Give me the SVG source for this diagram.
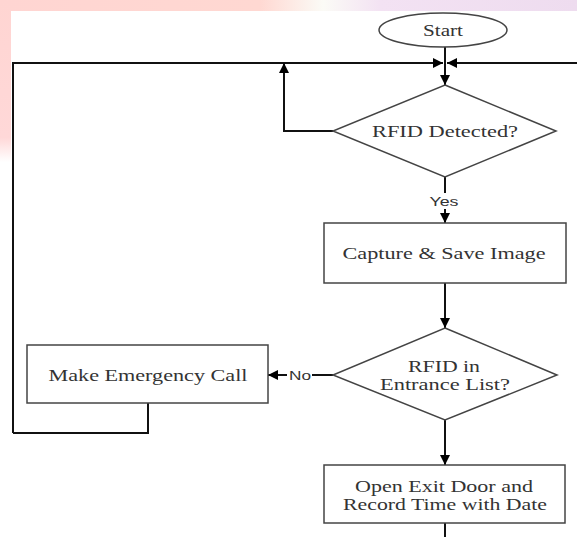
<svg xmlns="http://www.w3.org/2000/svg" width="577" height="537" viewBox="0 0 577 537">
<defs>
<linearGradient id="topg" x1="0" y1="0" x2="1" y2="0">
<stop offset="0" stop-color="#ffd5d2"/>
<stop offset="0.45" stop-color="#ffd8d2"/>
<stop offset="0.56" stop-color="#fbfbf6"/>
<stop offset="0.66" stop-color="#f3e2f3"/>
<stop offset="1" stop-color="#eedcef"/>
</linearGradient>
<linearGradient id="leftg" x1="0" y1="0" x2="0" y2="1">
<stop offset="0" stop-color="#ffd5d2"/>
<stop offset="0.85" stop-color="#ffd8d8"/>
<stop offset="1" stop-color="#ffffff"/>
</linearGradient>
<marker id="ah" viewBox="0 0 10 10" refX="10" refY="5" markerWidth="10" markerHeight="10" markerUnits="userSpaceOnUse" orient="auto">
<path d="M0,0 L10,5 L0,10 z" fill="#000"/>
</marker>
<style>
.shape{fill:#fff;stroke:#444;stroke-width:1.5}
.conn{fill:none;stroke:#111;stroke-width:2}
.t{font-family:"Liberation Serif","Times New Roman",serif;font-size:17px;fill:#333;text-anchor:middle;dominant-baseline:central}
.lbl{font-family:"Liberation Sans",Arial,sans-serif;font-size:13px;fill:#333;text-anchor:middle;dominant-baseline:central}
</style>
</defs>
<rect x="0" y="0" width="577" height="537" fill="#fff"/>
<rect x="0" y="0" width="577" height="11" fill="url(#topg)"/>
<rect x="0" y="0" width="11" height="162" fill="url(#leftg)"/>
<g id="connectors">
<path class="conn" d="M445,47 V85" marker-end="url(#ah)"/>
<path class="conn" d="M13,433 V63 H443" marker-end="url(#ah)"/>
<path class="conn" d="M577,63 H447" marker-end="url(#ah)"/>
<path class="conn" d="M333,131 H284 V63" marker-end="url(#ah)"/>
<path class="conn" d="M445,177 V193"/>
<path class="conn" d="M445,209 V223" marker-end="url(#ah)"/>
<path class="conn" d="M445,283 V328" marker-end="url(#ah)"/>
<path class="conn" d="M333,375 H312"/>
<path class="conn" d="M287,375 H268" marker-end="url(#ah)"/>
<path class="conn" d="M148,403 V433 H13"/>
<path class="conn" d="M445,420 V465" marker-end="url(#ah)"/>
<path class="conn" d="M445,523 V537"/>
<text class="lbl" x="444" y="201" textLength="29" lengthAdjust="spacingAndGlyphs">Yes</text>
<text class="lbl" x="300" y="375" textLength="22" lengthAdjust="spacingAndGlyphs">No</text>
</g>
<g id="start">
<ellipse class="shape" cx="443" cy="30" rx="64" ry="17"/>
<text class="t" x="443" y="30" textLength="40" lengthAdjust="spacingAndGlyphs">Start</text>
</g>
<g id="rfid-detected">
<polygon class="shape" points="445,85 556,131 445,177 333,131"/>
<text class="t" x="445" y="131" textLength="146" lengthAdjust="spacingAndGlyphs">RFID Detected?</text>
</g>
<g id="capture">
<rect class="shape" x="324" y="223" width="242" height="60"/>
<text class="t" x="444" y="253" textLength="203" lengthAdjust="spacingAndGlyphs">Capture &amp; Save Image</text>
</g>
<g id="rfid-entrance">
<polygon class="shape" points="445,328 557,375 445,420 333,375"/>
<text class="t" x="444" y="366" textLength="72" lengthAdjust="spacingAndGlyphs">RFID in</text>
<text class="t" x="445" y="384" textLength="130" lengthAdjust="spacingAndGlyphs">Entrance List?</text>
</g>
<g id="emergency">
<rect class="shape" x="27" y="345" width="241" height="58"/>
<text class="t" x="148" y="375" textLength="199" lengthAdjust="spacingAndGlyphs">Make Emergency Call</text>
</g>
<g id="open-exit">
<rect class="shape" x="324" y="465" width="241" height="58"/>
<text class="t" x="444" y="486" textLength="178" lengthAdjust="spacingAndGlyphs">Open Exit Door and</text>
<text class="t" x="445" y="504" textLength="204" lengthAdjust="spacingAndGlyphs">Record Time with Date</text>
</g>
</svg>
